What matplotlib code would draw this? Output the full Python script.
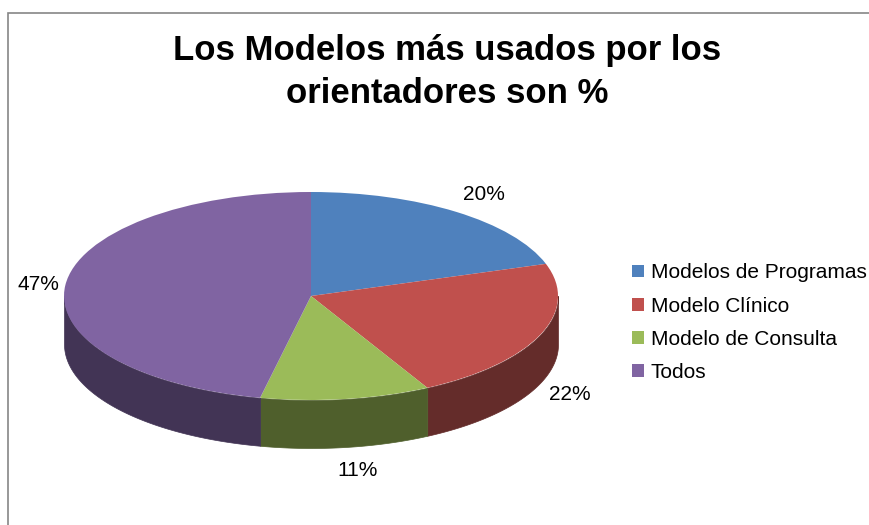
import numpy as np
import matplotlib
matplotlib.use('Agg')
import matplotlib.pyplot as plt
from matplotlib.patches import Rectangle

plt.rcParams['font.family'] = ['Liberation Sans', 'DejaVu Sans']

W, H = 869, 525

# datos
categories = ['Modelos de Programas', 'Modelo Clínico', 'Modelo de Consulta', 'Todos']
values = [20.0, 22.2, 11.1, 46.7]
title = 'Los Modelos más usados por los\norientadores son %'
top_colors = ['#4F81BD', '#C0504D', '#9BBB59', '#8064A2']
side_colors = ['#2F4D71', '#642C2A', '#4F5F2C', '#423455']

fig = plt.figure(figsize=(W / 100, H / 100), dpi=100, facecolor='white')

# marco del grafico
fig.add_artist(Rectangle((8 / W, -0.1), 1.1, 0.1 + (H - 13) / H, transform=fig.transFigure,
                         facecolor='none', edgecolor='#868686', linewidth=1.2))

# centro y radios de la elipse en pixeles
cx, cy, rx, ry, depth = 311, 296, 247, 104, 48
ax = fig.add_axes([(cx - rx) / W, 1 - (cy + ry) / H, 2 * rx / W, 2 * ry / H])

wedges, _ = ax.pie(values, colors=top_colors, startangle=90, counterclock=False, radius=1)
ax.set_aspect('auto')
ax.set_xlim(-1, 1)
ax.set_ylim(-1, 1)
for w in wedges:
    w.set_clip_on(False)
    w.set_zorder(3)

# pared lateral
d = depth / ry
ends = 90 - np.cumsum(values) * 3.6
starts = np.r_[90, ends[:-1]]
for a0, a1, c in zip(starts, ends, side_colors):
    lo = max(a1, -180)
    hi = min(a0, 0)
    if hi <= lo:
        continue
    t = np.radians(np.linspace(hi, lo, 80))
    ax.fill_between(np.cos(t), np.sin(t), np.sin(t) - d, color=c, linewidth=0.5, clip_on=False, zorder=1)

# etiquetas de porcentaje
label_pos = [(484, 195), (570, 394), (358, 470), (38, 284)]
for v, (px, py) in zip(values, label_pos):
    fig.text(px / W, 1 - py / H, '%.0f%%' % v, ha='center', va='center', fontsize=15, color='black')

fig.text(447 / W, 1 - 72 / H, title, ha='center', va='center', fontsize=25, fontweight='bold',
         linespacing=1.38, color='black')

leg = fig.legend(wedges, categories, loc='upper left', bbox_to_anchor=(624 / W, 1 - 255 / H),
                 frameon=False, fontsize=15, handlelength=0.58, handleheight=0.58,
                 handletextpad=0.3, labelspacing=0.68, borderaxespad=0, borderpad=0.4)

fig.savefig('out.png', dpi=100, facecolor='white')
